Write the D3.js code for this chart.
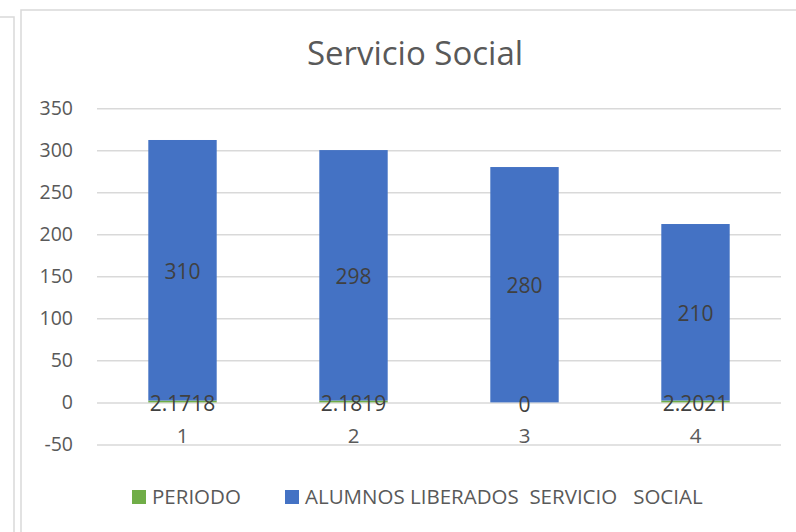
<!DOCTYPE html>
<html>
<head>
<meta charset="utf-8">
<script src="https://cdn.jsdelivr.net/npm/d3@7"></script>
<style>
  html, body { margin: 0; padding: 0; background: #fff; }
  svg { display: block; font-family: "Open Sans", "Noto Sans", sans-serif; }
  text { white-space: pre; }
</style>
</head>
<body>
<svg id="chart" width="796" height="532"></svg>
<script>
const title = "Servicio Social";
const categories = ["1", "2", "3", "4"];
const periodo = [2.1718, 2.1819, 0, 2.2021];
const alumnos = [310, 298, 280, 210];
const seriesNames = ["PERIODO", "ALUMNOS LIBERADOS  SERVICIO   SOCIAL"];
const seriesKeys = ["periodo", "alumnos"];
const yTicks = [-50, 0, 50, 100, 150, 200, 250, 300, 350];

const colors = { periodo: "#70AD47", alumnos: "#4472C4" };
const textColor = "#595959";
const gridColor = "#D9D9D9";

const svg = d3.select("#chart");

// frames (adjacent panel + chart area)
svg.append("path")
  .attr("d", "M0,17 H14 V540")
  .attr("fill", "none").attr("stroke", gridColor).attr("stroke-width", 1.5);
svg.append("rect")
  .attr("x", 21).attr("y", 10).attr("width", 800).attr("height", 540)
  .attr("fill", "#fff").attr("stroke", gridColor).attr("stroke-width", 1.5);

const plot = { left: 97, right: 781 };
const y = d3.scaleLinear().domain([-50, 350]).range([444.4, 108.2]);
const x = d3.scaleBand().domain(categories).range([plot.left, plot.right])
  .paddingInner(0.6).paddingOuter(0.3);

// title
svg.append("text")
  .attr("x", 415).attr("y", 65)
  .attr("text-anchor", "middle")
  .attr("font-size", 33)
  .attr("fill", textColor)
  .text(title);

// y axis with gridlines
const yAxis = d3.axisLeft(y).tickValues(yTicks)
  .tickSize(-(plot.right - plot.left)).tickPadding(24).tickFormat(d => String(d));
const gy = svg.append("g").attr("transform", `translate(${plot.left},0)`).call(yAxis);
gy.select(".domain").remove();
gy.selectAll(".tick line").attr("stroke", gridColor).attr("stroke-width", 1.5);
gy.selectAll(".tick text").attr("fill", textColor).attr("font-size", 19.5)
  .attr("font-family", "'Open Sans', sans-serif");

// stacked data
const table = categories.map((c, i) => ({ cat: c, periodo: periodo[i], alumnos: alumnos[i] }));
const stack = d3.stack().keys(seriesKeys)(table);

const layers = svg.append("g").selectAll("g").data(stack).join("g")
  .attr("fill", d => colors[d.key]);
layers.selectAll("rect").data(d => d).join("rect")
  .attr("x", d => x(d.data.cat))
  .attr("width", x.bandwidth())
  .attr("y", d => y(d[1]))
  .attr("height", d => Math.max(0, y(d[0]) - y(d[1])));

// data labels
const lblG = svg.append("g");
stack.forEach(layer => {
  lblG.selectAll(null).data(layer).join("text")
    .attr("x", d => x(d.data.cat) + x.bandwidth() / 2)
    .attr("y", d => y((d[0] + d[1]) / 2) + (layer.key === "periodo" ? 2 : 1))
    .attr("dy", "0.35em")
    .attr("text-anchor", "middle")
    .attr("font-size", 21)
    .attr("fill", "#404040")
    .text(d => d.data[layer.key]);
});

// x axis labels
const xAxis = d3.axisBottom(x).tickSize(0).tickPadding(0);
const gx = svg.append("g").attr("transform", `translate(0,${y(0) + 33})`).call(xAxis);
gx.select(".domain").remove();
gx.selectAll(".tick text").attr("fill", textColor).attr("font-size", 20.5)
  .attr("font-family", "'Open Sans', sans-serif").attr("dy", "0.35em");

// legend
const legendX = [132, 285];
const leg = svg.append("g");
seriesKeys.forEach((k, i) => {
  leg.append("rect").attr("x", legendX[i]).attr("y", 490).attr("width", 14).attr("height", 14)
    .attr("fill", colors[k]);
  leg.append("text").attr("x", legendX[i] + 20).attr("y", 504)
    .attr("font-size", 20.5).attr("fill", textColor)
    .text(seriesNames[i]);
});
</script>
</body>
</html>
